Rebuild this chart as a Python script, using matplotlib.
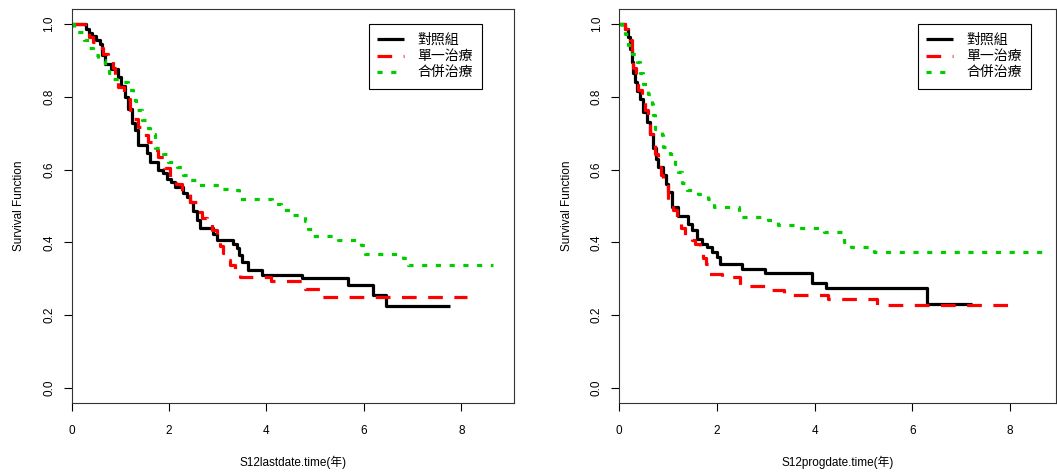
import numpy as np
import matplotlib
matplotlib.use("Agg")
import matplotlib.pyplot as plt

plt.rcParams['font.family'] = ['Liberation Sans', 'Noto Sans CJK TC']

groups = ["對照組", "單一治療", "合併治療"]
colors = ["black", "#FF0000", "#00CC00"]

# left panel: S12lastdate.time
last_ctrl_t = [0, 0.29, 0.35, 0.41, 0.50, 0.58, 0.63, 0.68, 0.80, 0.96, 1.02, 1.09, 1.16, 1.23, 1.30, 1.37,
               1.54, 1.60, 1.78, 1.87, 1.95, 2.04, 2.12, 2.29, 2.36, 2.43, 2.50, 2.57, 2.63, 2.91, 2.98,
               3.32, 3.39, 3.44, 3.49, 3.63, 3.90, 4.72, 5.68, 6.19, 6.45, 7.77]
last_ctrl_s = [1.0, 0.985, 0.975, 0.968, 0.955, 0.945, 0.915, 0.89, 0.875, 0.854, 0.83, 0.80, 0.765, 0.727, 0.71, 0.667,
               0.645, 0.62, 0.60, 0.59, 0.575, 0.565, 0.552, 0.535, 0.525, 0.51, 0.485, 0.461, 0.44, 0.424, 0.406,
               0.397, 0.385, 0.365, 0.347, 0.324, 0.31, 0.301, 0.284, 0.255, 0.226, 0.226]

last_single_t = [0, 0.27, 0.35, 0.44, 0.55, 0.65, 0.75, 0.85, 0.90, 0.96, 1.08, 1.20, 1.28, 1.37, 1.47, 1.57,
                 1.68, 1.78, 1.90, 2.02, 2.14, 2.26, 2.42, 2.57, 2.67, 2.77, 2.88, 2.98, 3.05, 3.11, 3.18,
                 3.25, 3.35, 3.46, 4.10, 4.79, 5.10, 8.11]
last_single_s = [1.0, 0.985, 0.965, 0.95, 0.935, 0.918, 0.90, 0.88, 0.855, 0.827, 0.795, 0.763, 0.74, 0.717, 0.695, 0.676,
                 0.655, 0.635, 0.605, 0.58, 0.56, 0.539, 0.51, 0.484, 0.468, 0.452, 0.433, 0.415, 0.39, 0.37, 0.353,
                 0.337, 0.32, 0.305, 0.293, 0.273, 0.25, 0.25]

last_comb_t = [0, 0.05, 0.10, 0.25, 0.35, 0.44, 0.55, 0.68, 0.77, 0.85, 1.06, 1.16, 1.25, 1.33, 1.44, 1.52,
               1.61, 1.71, 1.88, 1.98, 2.16, 2.29, 2.43, 2.55, 3.05, 3.35, 3.44, 4.12, 4.30, 4.55, 4.79,
               4.86, 4.96, 5.47, 5.95, 6.02, 6.81, 6.91, 8.66]
last_comb_s = [1.0, 0.985, 0.977, 0.955, 0.935, 0.914, 0.90, 0.88, 0.865, 0.85, 0.84, 0.818, 0.79, 0.763, 0.735, 0.715,
               0.699, 0.658, 0.644, 0.62, 0.607, 0.584, 0.571, 0.559, 0.548, 0.543, 0.52, 0.505, 0.488, 0.475, 0.46,
               0.438, 0.418, 0.406, 0.392, 0.368, 0.356, 0.337, 0.337]

# right panel: S12progdate.time
prog_ctrl_t = [0, 0.12, 0.18, 0.22, 0.25, 0.29, 0.32, 0.37, 0.42, 0.49, 0.56, 0.63, 0.70, 0.75, 0.80, 0.90,
               0.95, 1.00, 1.07, 1.21, 1.41, 1.48, 1.59, 1.69, 1.79, 1.90, 2.00, 2.06, 2.51, 2.99, 3.94,
               4.24, 6.29, 7.22]
prog_ctrl_s = [1.0, 0.985, 0.965, 0.932, 0.895, 0.865, 0.84, 0.815, 0.795, 0.758, 0.73, 0.699, 0.658, 0.63, 0.607, 0.584,
               0.56, 0.539, 0.497, 0.472, 0.45, 0.433, 0.41, 0.397, 0.388, 0.375, 0.36, 0.34, 0.328, 0.316, 0.289,
               0.276, 0.23, 0.23]

prog_single_t = [0, 0.12, 0.18, 0.22, 0.26, 0.29, 0.34, 0.39, 0.46, 0.53, 0.58, 0.63, 0.68, 0.73, 0.80, 0.85,
                 0.90, 1.00, 1.09, 1.18, 1.27, 1.35, 1.48, 1.56, 1.65, 1.72, 1.78, 1.84, 2.10, 2.47, 3.00,
                 3.38, 4.28, 5.28, 8.11]
prog_single_s = [1.0, 0.985, 0.97, 0.955, 0.915, 0.88, 0.85, 0.818, 0.79, 0.763, 0.73, 0.699, 0.67, 0.644, 0.607, 0.585,
                 0.562, 0.516, 0.49, 0.47, 0.44, 0.415, 0.406, 0.395, 0.383, 0.356, 0.34, 0.313, 0.304, 0.28, 0.269,
                 0.256, 0.246, 0.228, 0.228]

prog_comb_t = [0, 0.05, 0.12, 0.18, 0.27, 0.36, 0.43, 0.49, 0.59, 0.66, 0.70, 0.73, 0.87, 0.90, 1.04, 1.14,
               1.21, 1.28, 1.38, 1.62, 1.82, 1.93, 2.45, 3.05, 3.25, 3.60, 4.20, 4.59, 4.75, 5.21, 8.69]
prog_comb_s = [1.0, 0.985, 0.973, 0.941, 0.918, 0.895, 0.865, 0.836, 0.808, 0.781, 0.749, 0.712, 0.694, 0.662, 0.644, 0.616,
               0.593, 0.562, 0.543, 0.532, 0.519, 0.497, 0.47, 0.462, 0.447, 0.44, 0.429, 0.401, 0.388, 0.374, 0.374]

panels = [
    ("S12lastdate.time(年)", [(last_ctrl_t, last_ctrl_s), (last_single_t, last_single_s), (last_comb_t, last_comb_s)], 9.08),
    ("S12progdate.time(年)", [(prog_ctrl_t, prog_ctrl_s), (prog_single_t, prog_single_s), (prog_comb_t, prog_comb_s)], 8.95),
]

fig = plt.figure(figsize=(10.57, 4.72), dpi=100)
axes_pos = [[0.0678, 0.1468, 0.4184, 0.8335], [0.5859, 0.1468, 0.4136, 0.8335]]
dashes = [None, (4.6, 3.6), (1.6, 2.7)]

for (xlab, curves, xmax), pos, anchor in zip(panels, axes_pos, [0.927, 0.941]):
    ax = fig.add_axes(pos)
    for (t, s), c, d, lab in zip(curves, colors, dashes, groups):
        line, = ax.step(t, s, where='post', color=c, lw=2.3, label=lab,
                        solid_capstyle='butt', dash_capstyle='butt')
        if d is not None:
            line.set_dashes(d)
    ax.set_xlim(0, xmax)
    ax.set_ylim(-0.04, 1.04)
    ax.set_xticks([0, 2, 4, 6, 8])
    ax.set_yticks([0.0, 0.2, 0.4, 0.6, 0.8, 1.0])
    ax.set_yticklabels(["0.0", "0.2", "0.4", "0.6", "0.8", "1.0"], rotation=90, va='center')
    ax.tick_params(length=5.8, width=0.8, labelsize=8.5, color='black')
    ax.tick_params(axis='x', pad=10)
    ax.tick_params(axis='y', pad=6)
    for sp in ax.spines.values():
        sp.set_linewidth(0.8)
        sp.set_color('#333333')
    ax.set_xlabel(xlab, fontsize=8.5, labelpad=14)
    ax.set_ylabel("Survival Function", fontsize=8.5, labelpad=13)
    leg = ax.legend(loc='upper right', bbox_to_anchor=(anchor, 0.9626), borderaxespad=0,
                    fancybox=False, edgecolor='black', framealpha=1, fontsize=10,
                    handlelength=1.9, handletextpad=1.0, labelspacing=0.2, borderpad=0.62)
    leg.get_frame().set_linewidth(0.8)

fig.savefig("out.png", dpi=100)
